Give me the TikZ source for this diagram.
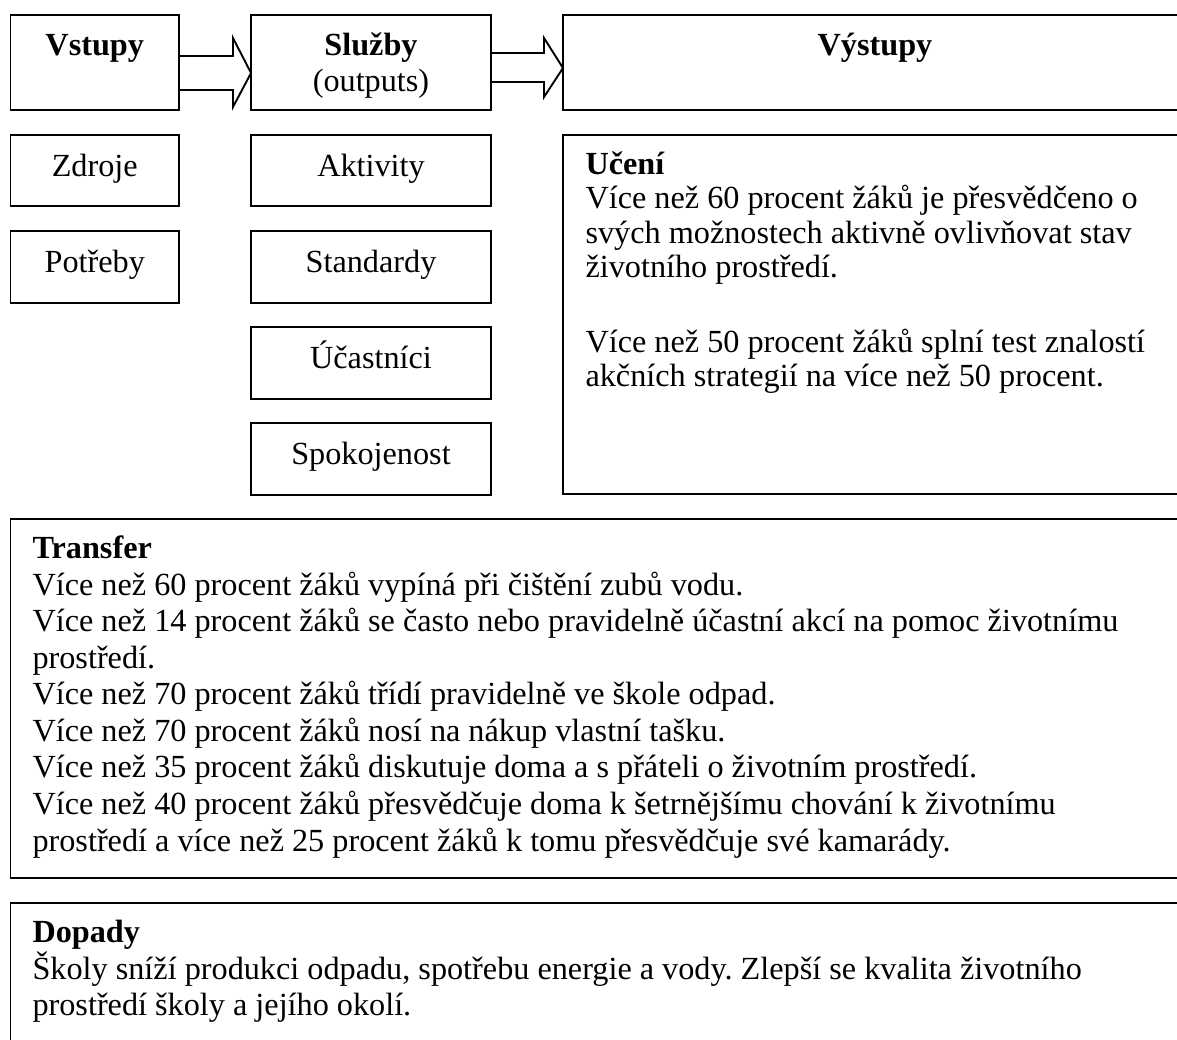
\documentclass[tikz,border=0pt]{standalone}
\usepackage{fontspec}
\setmainfont{Liberation Serif}
\usetikzlibrary{calc}
\newcommand\tstrut{\rule{0pt}{12pt}}
\frenchspacing
\begin{document}
\begin{tikzpicture}[x=0.38pt,y=-0.38pt,
  bx/.style 2 args={draw, line width=0.72pt, inner sep=0pt, outer sep=0pt, anchor=north west,
    minimum width=#1*0.38pt, minimum height=#2*0.38pt},
  lbl/.style={font=\fontsize{12.25}{13.9}\selectfont, inner sep=0pt, anchor=base},
  para/.style={font=\fontsize{12.25}{13.9}\selectfont, inner sep=0pt, anchor=north west, align=left},
  paru/.style={font=\fontsize{12.25}{13.03}\selectfont, inner sep=0pt, anchor=north west, align=left},
  arr/.style={draw, line width=0.72pt, line join=miter}]
\path[use as bounding box, clip] (0,0) rectangle (1177,1039);

% header row
\node[bx={168.5}{95}] (vstupy) at (10.5,15) {};
\node[bx={240}{95}] (sluzby) at (251,15) {};
\node[bx={624}{95}] (vystupy) at (563,15) {};
% second column boxes
\node[bx={168.5}{71}] (zdroje) at (10.5,135) {};
\node[bx={168.5}{72}] (potreby) at (10.5,231) {};
\node[bx={240}{71}] (aktivity) at (251,135) {};
\node[bx={240}{72}] (standardy) at (251,231) {};
\node[bx={240}{72}] (ucastnici) at (251,327) {};
\node[bx={240}{72}] (spokojenost) at (251,423) {};
% big boxes
\node[bx={624}{359}] (uceni) at (563,135) {};
\node[bx={1176.5}{359}] (transfer) at (10.5,519) {};
\node[bx={1176.5}{200}] (dopady) at (10.5,903) {};

% block arrows
\draw[arr] ($(vstupy.north east)+(0,41)$) -- ++(54,0) -- ++(0,-18)
  -- ($(sluzby.north west)+(0,58)$) -- ($(vstupy.north east)+(54,92)$) -- ++(0,-17)
  -- ($(vstupy.north east)+(0,75)$);
\draw[arr] ($(sluzby.north east)+(0,38)$) -- ++(53,0) -- ++(0,-15)
  -- ($(vystupy.north west)+(0,53)$) -- ($(sluzby.north east)+(53,82)$) -- ++(0,-15)
  -- ($(sluzby.north east)+(0,67)$);

% header labels
\node[lbl] (tvstupy) at ($(vstupy.north)+(0,40)$) {\textbf{Vstupy}};
\node[lbl] (tsluzby) at ($(sluzby.north)+(0,40)$) {\textbf{Služby}};
\node[lbl] (toutputs) at ($(sluzby.north)+(0,76)$) {(outputs)};
\node[lbl] (tvystupy) at ($(vystupy.north)+(0,40)$) {\textbf{Výstupy}};

% small box labels
\node[lbl] (tzdroje) at ($(zdroje.north)+(0,41)$) {Zdroje};
\node[lbl] (tpotreby) at ($(potreby.north)+(0,41)$) {Potřeby};
\node[lbl] (taktivity) at ($(aktivity.north)+(0,41)$) {Aktivity};
\node[lbl] (tstandardy) at ($(standardy.north)+(0,41)$) {Standardy};
\node[lbl] (tucastnici) at ($(ucastnici.north)+(0,41)$) {Účastníci};
\node[lbl] (tspokojenost) at ($(spokojenost.north)+(0,41)$) {Spokojenost};

% Uceni text
\node[paru] (tuceni1) at (585,142.4) {\tstrut\textbf{Učení}\\
Více než 60 procent žáků je přesvědčeno o\\
svých možnostech aktivně ovlivňovat stav\\
životního prostředí.};
\node[paru] (tuceni2) at (585,320.4) {\tstrut Více než 50 procent žáků splní test znalostí\\
akčních strategií na více než 50 procent.};

% Transfer text
\node[para] (ttransfer) at (32,526.4) {\tstrut\textbf{Transfer}\\
Více než 60 procent žáků vypíná při čištění zubů vodu.\\
Více než 14 procent žáků se často nebo pravidelně účastní akcí na pomoc životnímu\\
prostředí.\\
Více než 70 procent žáků třídí pravidelně ve škole odpad.\\
Více než 70 procent žáků nosí na nákup vlastní tašku.\\
Více než 35 procent žáků diskutuje doma a s přáteli o životním prostředí.\\
Více než 40 procent žáků přesvědčuje doma k šetrnějšímu chování k životnímu\\
prostředí a více než 25 procent žáků k tomu přesvědčuje své kamarády.};

% Dopady text
\node[para] (tdopady) at (32,910.4) {\tstrut\textbf{Dopady}\\
Školy sníží produkci odpadu, spotřebu energie a vody. Zlepší se kvalita životního\\
prostředí školy a jejího okolí.};
\end{tikzpicture}
\end{document}
